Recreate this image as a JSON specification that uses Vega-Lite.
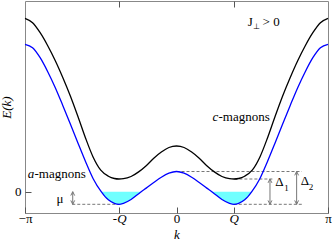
{
  "$schema": "https://vega.github.io/schema/vega-lite/v6.json",
  "autosize": "none",
  "width": 303,
  "height": 212,
  "padding": {"left": 25, "top": 1, "right": 4, "bottom": 28},
  "config": {
    "view": {"stroke": "#888", "strokeWidth": 1},
    "font": "'Liberation Serif', 'Times New Roman', serif",
    "text": {"font": "'Liberation Serif', 'Times New Roman', serif", "fontSize": 13, "baseline": "middle"}
  },
  "datasets": {
    "curves": [
      {"k": -1, "E": 14.74, "m": "a"}, {"k": -0.95, "E": 14.4, "m": "a"}, {"k": -0.9, "E": 13.4, "m": "a"}, {"k": -0.85, "E": 12.0, "m": "a"},
      {"k": -0.8, "E": 10.4, "m": "a"}, {"k": -0.75, "E": 8.6, "m": "a"}, {"k": -0.7, "E": 6.75, "m": "a"}, {"k": -0.65, "E": 4.85, "m": "a"},
      {"k": -0.6, "E": 3.0, "m": "a"}, {"k": -0.55, "E": 1.3, "m": "a"}, {"k": -0.497, "E": 0, "m": "a"}, {"k": -0.47, "E": -0.52, "m": "a"},
      {"k": -0.45, "E": -0.8, "m": "a"}, {"k": -0.41, "E": -1.16, "m": "a"}, {"k": -0.38, "E": -1.26, "m": "a"}, {"k": -0.35, "E": -1.16, "m": "a"},
      {"k": -0.3, "E": -0.78, "m": "a"}, {"k": -0.25, "E": -0.2, "m": "a"}, {"k": -0.233, "E": 0, "m": "a"}, {"k": -0.2, "E": 0.36, "m": "a"},
      {"k": -0.15, "E": 0.92, "m": "a"}, {"k": -0.1, "E": 1.45, "m": "a"}, {"k": -0.05, "E": 1.85, "m": "a"}, {"k": 0, "E": 2.02, "m": "a"},
      {"k": 0.05, "E": 1.85, "m": "a"}, {"k": 0.1, "E": 1.45, "m": "a"}, {"k": 0.15, "E": 0.92, "m": "a"}, {"k": 0.2, "E": 0.36, "m": "a"},
      {"k": 0.233, "E": 0, "m": "a"}, {"k": 0.25, "E": -0.2, "m": "a"}, {"k": 0.3, "E": -0.78, "m": "a"}, {"k": 0.35, "E": -1.16, "m": "a"},
      {"k": 0.38, "E": -1.26, "m": "a"}, {"k": 0.41, "E": -1.16, "m": "a"}, {"k": 0.45, "E": -0.8, "m": "a"}, {"k": 0.47, "E": -0.52, "m": "a"},
      {"k": 0.497, "E": 0, "m": "a"}, {"k": 0.55, "E": 1.3, "m": "a"}, {"k": 0.6, "E": 3.0, "m": "a"}, {"k": 0.65, "E": 4.85, "m": "a"},
      {"k": 0.7, "E": 6.75, "m": "a"}, {"k": 0.75, "E": 8.6, "m": "a"}, {"k": 0.8, "E": 10.4, "m": "a"}, {"k": 0.85, "E": 12.0, "m": "a"},
      {"k": 0.9, "E": 13.4, "m": "a"}, {"k": 0.95, "E": 14.4, "m": "a"}, {"k": 1, "E": 14.74, "m": "a"},
      {"k": -1, "E": 17.34, "m": "c"}, {"k": -0.95, "E": 16.9, "m": "c"}, {"k": -0.9, "E": 15.9, "m": "c"}, {"k": -0.85, "E": 14.6, "m": "c"},
      {"k": -0.8, "E": 13.1, "m": "c"}, {"k": -0.75, "E": 11.4, "m": "c"}, {"k": -0.7, "E": 9.55, "m": "c"}, {"k": -0.65, "E": 7.5, "m": "c"},
      {"k": -0.6, "E": 5.35, "m": "c"}, {"k": -0.55, "E": 3.45, "m": "c"}, {"k": -0.5, "E": 2.15, "m": "c"}, {"k": -0.45, "E": 1.55, "m": "c"},
      {"k": -0.41, "E": 1.32, "m": "c"}, {"k": -0.38, "E": 1.27, "m": "c"}, {"k": -0.35, "E": 1.3, "m": "c"}, {"k": -0.3, "E": 1.52, "m": "c"},
      {"k": -0.25, "E": 1.98, "m": "c"}, {"k": -0.2, "E": 2.6, "m": "c"}, {"k": -0.15, "E": 3.35, "m": "c"}, {"k": -0.1, "E": 3.97, "m": "c"},
      {"k": -0.05, "E": 4.42, "m": "c"}, {"k": 0, "E": 4.57, "m": "c"}, {"k": 0.05, "E": 4.42, "m": "c"}, {"k": 0.1, "E": 3.97, "m": "c"},
      {"k": 0.15, "E": 3.35, "m": "c"}, {"k": 0.2, "E": 2.6, "m": "c"}, {"k": 0.25, "E": 1.98, "m": "c"}, {"k": 0.3, "E": 1.52, "m": "c"},
      {"k": 0.35, "E": 1.3, "m": "c"}, {"k": 0.38, "E": 1.27, "m": "c"}, {"k": 0.41, "E": 1.32, "m": "c"}, {"k": 0.45, "E": 1.55, "m": "c"},
      {"k": 0.5, "E": 2.15, "m": "c"}, {"k": 0.55, "E": 3.45, "m": "c"}, {"k": 0.6, "E": 5.35, "m": "c"}, {"k": 0.65, "E": 7.5, "m": "c"},
      {"k": 0.7, "E": 9.55, "m": "c"}, {"k": 0.75, "E": 11.4, "m": "c"}, {"k": 0.8, "E": 13.1, "m": "c"}, {"k": 0.85, "E": 14.6, "m": "c"},
      {"k": 0.9, "E": 15.9, "m": "c"}, {"k": 0.95, "E": 16.9, "m": "c"}, {"k": 1, "E": 17.34, "m": "c"}
    ],
    "fill": [
      {"k": -0.497, "E": 0, "s": "L"}, {"k": -0.47, "E": -0.52, "s": "L"}, {"k": -0.45, "E": -0.8, "s": "L"}, {"k": -0.41, "E": -1.16, "s": "L"},
      {"k": -0.38, "E": -1.26, "s": "L"}, {"k": -0.35, "E": -1.16, "s": "L"}, {"k": -0.3, "E": -0.78, "s": "L"}, {"k": -0.25, "E": -0.2, "s": "L"},
      {"k": -0.233, "E": 0, "s": "L"},
      {"k": 0.233, "E": 0, "s": "R"}, {"k": 0.25, "E": -0.2, "s": "R"}, {"k": 0.3, "E": -0.78, "s": "R"}, {"k": 0.35, "E": -1.16, "s": "R"},
      {"k": 0.38, "E": -1.26, "s": "R"}, {"k": 0.41, "E": -1.16, "s": "R"}, {"k": 0.45, "E": -0.8, "s": "R"}, {"k": 0.47, "E": -0.52, "s": "R"},
      {"k": 0.497, "E": 0, "s": "R"}
    ],
    "dashes": [
      {"k1": 0, "k2": 0.827, "E": 2.02},
      {"k1": 0.382, "k2": 0.64, "E": 1.27},
      {"k1": 0.378, "k2": 0.83, "E": -1.26},
      {"k1": -0.688, "k2": -0.378, "E": -1.26}
    ],
    "arrows": [
      {"k": -0.685, "lo": -1.26, "hi": 0},
      {"k": 0.617, "lo": -1.26, "hi": 1.27},
      {"k": 0.793, "lo": -1.26, "hi": 2.02}
    ],
    "textsN": [
      {"k": -0.937, "E": 1.77, "t": "-magnons", "sz": 13},
      {"k": 0.277, "E": 7.47, "t": "-magnons", "sz": 13},
      {"k": 0.47, "E": 16.97, "t": "J", "sz": 13},
      {"k": 0.508, "E": 16.45, "t": "⊥", "sz": 8},
      {"k": 0.568, "E": 16.97, "t": "> 0", "sz": 13}
    ],
    "textsC": [
      {"k": -0.769, "E": -0.73, "t": "μ", "sz": 13},
      {"k": 0.68, "E": 0.97, "t": "Δ", "sz": 13},
      {"k": 0.726, "E": 0.34, "t": "1", "sz": 9},
      {"k": 0.848, "E": 1.12, "t": "Δ", "sz": 13},
      {"k": 0.888, "E": 0.44, "t": "2", "sz": 9}
    ],
    "textsI": [
      {"k": -0.96, "E": 1.77, "t": "a"},
      {"k": 0.257, "E": 7.47, "t": "c"}
    ]
  },
  "resolve": {"axis": {"x": "independent"}},
  "layer": [
    {
      "layer": [
        {
          "data": {"name": "fill"},
          "mark": {"type": "area", "color": "#70ffff", "interpolate": "monotone"},
          "encoding": {
            "x": {"field": "k", "type": "quantitative", "scale": {"domain": [-1, 1], "nice": false, "zero": false},
              "axis": {
                "orient": "bottom", "values": [-1, -0.378, 0, 0.378, 1], "grid": false, "domain": false,
                "tickSize": -6, "tickColor": "#555", "labelPadding": 5, "labelFlush": false, "labelOverlap": false,
                "labelExpr": "datum.value == -1 ? '−π' : datum.value == 1 ? 'π' : datum.value == 0 ? '0' : datum.value < 0 ? '-Q' : 'Q'",
                "labelFont": "'Liberation Serif', 'Times New Roman', serif", "labelFontSize": 13, "labelColor": "#000",
                "labelFontStyle": {"condition": {"test": "abs(datum.value) > 0.1 && abs(datum.value) < 0.9", "value": "italic"}, "value": "normal"},
                "title": "k", "titleFont": "'Liberation Serif', 'Times New Roman', serif", "titleFontSize": 13, "titleFontStyle": "italic", "titleFontWeight": "normal", "titlePadding": 3, "titleColor": "#000"
              }},
            "y": {"field": "E", "type": "quantitative", "scale": {"domain": [-2.13, 19.07], "nice": false, "zero": false},
              "axis": {
                "values": [0], "grid": false, "domain": false, "tickSize": -6, "tickColor": "#555", "labelPadding": 10,
                "labelFont": "'Liberation Serif', 'Times New Roman', serif", "labelFontSize": 13, "labelColor": "#000",
                "title": "E(k)", "titleFont": "'Liberation Serif', 'Times New Roman', serif", "titleFontSize": 13, "titleFontStyle": "italic", "titleFontWeight": "normal", "titlePadding": 1, "titleColor": "#000"
              }},
            "y2": {"datum": 0},
            "detail": {"field": "s"}
          }
        },
        {
          "mark": {"type": "rule", "color": "#999", "strokeDash": [2, 1.5], "strokeWidth": 1},
          "encoding": {"y": {"datum": 0, "type": "quantitative"}}
        },
        {
          "mark": {"type": "rule", "color": "#333", "strokeDash": [1, 2], "strokeWidth": 1},
          "encoding": {"x": {"datum": 0, "type": "quantitative"}}
        },
        {
          "data": {"name": "dashes"},
          "mark": {"type": "rule", "color": "#777", "strokeDash": [3, 2], "strokeWidth": 1},
          "encoding": {
            "x": {"field": "k1", "type": "quantitative"},
            "x2": {"field": "k2"},
            "y": {"field": "E", "type": "quantitative"}
          }
        },
        {
          "data": {"name": "arrows"},
          "mark": {"type": "rule", "color": "#777", "strokeWidth": 1},
          "encoding": {
            "x": {"field": "k", "type": "quantitative"},
            "y": {"field": "lo", "type": "quantitative"},
            "y2": {"field": "hi"}
          }
        },
        {
          "data": {"name": "arrows"},
          "mark": {"type": "point", "shape": "M-0.5,1L0,0L0.5,1", "filled": false, "color": "#777", "size": 60, "strokeWidth": 1, "opacity": 1},
          "encoding": {
            "x": {"field": "k", "type": "quantitative"},
            "y": {"field": "hi", "type": "quantitative"}
          }
        },
        {
          "data": {"name": "arrows"},
          "mark": {"type": "point", "shape": "M-0.5,-1L0,0L0.5,-1", "filled": false, "color": "#777", "size": 60, "strokeWidth": 1, "opacity": 1},
          "encoding": {
            "x": {"field": "k", "type": "quantitative"},
            "y": {"field": "lo", "type": "quantitative"}
          }
        },
        {
          "data": {"name": "curves"},
          "mark": {"type": "line", "strokeWidth": 1.3, "interpolate": "monotone"},
          "encoding": {
            "x": {"field": "k", "type": "quantitative"},
            "y": {"field": "E", "type": "quantitative"},
            "color": {"field": "m", "type": "nominal", "scale": {"domain": ["a", "c"], "range": ["#0000ff", "#000000"]}, "legend": null}
          }
        },
        {
          "data": {"name": "textsN"},
          "mark": {"type": "text", "align": "left", "color": "#000"},
          "encoding": {
            "x": {"field": "k", "type": "quantitative"},
            "y": {"field": "E", "type": "quantitative"},
            "text": {"field": "t"},
            "size": {"field": "sz", "type": "quantitative", "scale": null}
          }
        },
        {
          "data": {"name": "textsC"},
          "mark": {"type": "text", "align": "center", "color": "#000"},
          "encoding": {
            "x": {"field": "k", "type": "quantitative"},
            "y": {"field": "E", "type": "quantitative"},
            "text": {"field": "t"},
            "size": {"field": "sz", "type": "quantitative", "scale": null}
          }
        },
        {
          "data": {"name": "textsI"},
          "mark": {"type": "text", "align": "center", "fontStyle": "italic", "color": "#000", "fontSize": 13},
          "encoding": {
            "x": {"field": "k", "type": "quantitative"},
            "y": {"field": "E", "type": "quantitative"},
            "text": {"field": "t"}
          }
        }
      ]
    },
    {
      "mark": {"type": "rule", "opacity": 0},
      "encoding": {
        "x": {"datum": 0, "type": "quantitative",
          "axis": {"orient": "top", "values": [-0.378, 0.378], "labels": false, "domain": false, "grid": false, "tickSize": -6, "tickColor": "#555", "title": null}}
      }
    }
  ]
}
